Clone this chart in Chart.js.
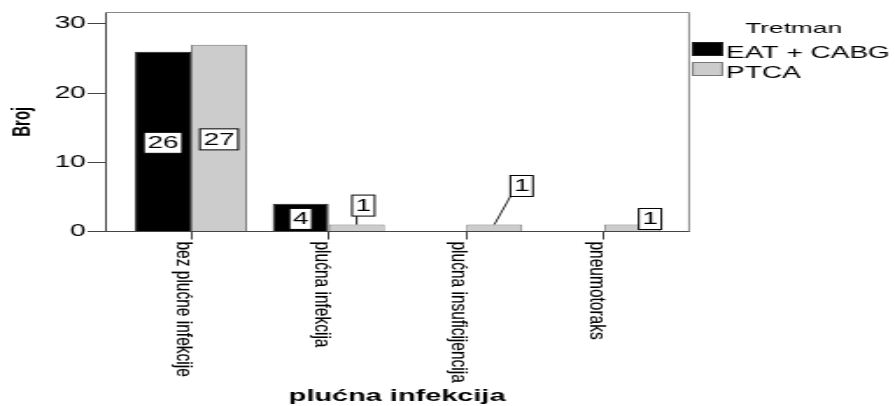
<!DOCTYPE html>
<html>
<head>
<meta charset="utf-8">
<script src="https://cdn.jsdelivr.net/npm/chart.js@4.4.1/dist/chart.umd.min.js"></script>
<style>
  html, body { margin: 0; padding: 0; background: #fff; overflow: hidden; }
  #wrap { width: 895px; height: 406px; position: relative; overflow: hidden; }
  /* the chart is laid out narrow and widened, so text and strokes come out broad */
  #chart { position: absolute; left: 0; top: 0; transform: scaleX(1.7515); transform-origin: 0 0; }
</style>
</head>
<body>
<div id="wrap"><canvas id="chart" width="511" height="406"></canvas></div>
<script>
/// Categories on the x axis
const categories = ["bez plućne infekcije", "plućna infekcija", "plućna insuficijencija", "pneumotoraks"];
/// Counts per treatment group
const eatCabg = [26, 4, 0, 0];
const ptca = [27, 1, 1, 1];
/// Series names and titles
const seriesNames = ["EAT + CABG", "PTCA"];
const legendTitle = "Tretman";
const yTitle = "Broj";
const xTitle = "plućna infekcija";
/// Y axis tick values
const yTicks = [0, 10, 20, 30];

const FONT = '"Liberation Sans", Arial, sans-serif';
const AXIS_COLOR = "#444";
const FRAME_COLOR = "#888";

/// Where each value box sits: null = middle of the bar, [dx, dy] = offset from bar top
const LABEL_OFFSETS = [
  [null, null, null, null],
  [null, [3.8, -19], [15.6, -38.6], [10.3, -5.6]]
];

// ── Plugins ─────────────────────────────────────────────────────────

/// Top and right sides of the plot frame.
const framePlugin = {
  id: "frame",
  afterDraw(chart) {
    const { ctx, chartArea: a } = chart;
    ctx.save();
    ctx.strokeStyle = FRAME_COLOR;
    ctx.lineWidth = 1;
    ctx.beginPath();
    ctx.moveTo(a.left, a.top + 0.5);
    ctx.lineTo(a.right, a.top + 0.5);
    ctx.lineTo(a.right, a.bottom);
    ctx.stroke();
    ctx.restore();
  }
};

/// Category names, rotated to read downwards from each tick.
const catLabelPlugin = {
  id: "catLabels",
  afterDraw(chart) {
    const { ctx } = chart;
    const xs = chart.scales.x;
    const top = xs.top + 10;
    ctx.save();
    ctx.fillStyle = "#000";
    ctx.strokeStyle = "rgba(0,0,0,0.35)";
    ctx.lineWidth = 0.4;
    ctx.font = "15.5px " + FONT;
    ctx.textAlign = "left";
    ctx.textBaseline = "alphabetic";
    categories.forEach((c, i) => {
      const px = xs.getPixelForValue(i);
      ctx.save();
      ctx.translate(px - 7.9, top);
      ctx.rotate(Math.PI / 2);
      ctx.scale(1, 0.8);
      ctx.fillText(c, 0, 0);
      ctx.strokeText(c, 0, 0);
      ctx.restore();
    });
    ctx.restore();
  }
};

/// Boxed value labels with leader lines.
const valueBoxPlugin = {
  id: "valueBoxes",
  afterDatasetsDraw(chart) {
    const { ctx } = chart;
    ctx.save();
    ctx.font = "16px " + FONT;
    ctx.textAlign = "center";
    ctx.textBaseline = "middle";
    ctx.lineWidth = 1;
    chart.data.datasets.forEach((ds, d) => {
      const meta = chart.getDatasetMeta(d);
      ds.data.forEach((pt, i) => {
        if (!pt.y) return;
        const bar = meta.data[i];
        const off = LABEL_OFFSETS[d][i];
        let cx, cy;
        if (off) { cx = bar.x + off[0]; cy = bar.y + off[1]; }
        else { cx = bar.x; cy = (bar.y + bar.base) / 2 + 1.5; }
        const txt = String(pt.y);
        const w = ctx.measureText(txt).width + 4;
        const h = 21;
        const l = cx - w / 2, t = cy - h / 2;
        // Leader line when the box floats above the bar
        if (t + h < bar.y - 1) {
          const lx = Math.min(Math.max(bar.x, l), l + w);
          ctx.strokeStyle = "#222";
          ctx.beginPath();
          ctx.moveTo(bar.x, bar.y);
          ctx.lineTo(lx, t + h);
          ctx.stroke();
        }
        ctx.fillStyle = "#fff";
        ctx.fillRect(l, t, w, h);
        ctx.strokeStyle = "#000";
        ctx.strokeRect(l, t, w, h);
        ctx.fillStyle = "#000";
        ctx.fillText(txt, cx, cy + 1);
      });
    });
    ctx.restore();
  }
};

/// Legend drawn beside the plot frame.
const legendPlugin = {
  id: "sideLegend",
  afterDraw(chart) {
    const { ctx, chartArea: a } = chart;
    const x0 = a.right + 1.7;
    ctx.save();
    ctx.fillStyle = "#000";
    ctx.font = "15px " + FONT;
    ctx.textAlign = "center";
    ctx.textBaseline = "alphabetic";
    ctx.fillText(legendTitle, x0 + 58, 33);
    ctx.font = "16px " + FONT;
    ctx.textAlign = "left";
    chart.data.datasets.forEach((ds, i) => {
      const y = 42 + i * 20;
      ctx.fillStyle = ds.backgroundColor;
      ctx.fillRect(x0, y, 17.7, 14);
      ctx.strokeStyle = ds.borderColor;
      ctx.lineWidth = 1;
      ctx.strokeRect(x0 + 0.5, y + 0.5, 16.7, 13);
      ctx.fillStyle = "#000";
      ctx.fillText(ds.label, x0 + 19.4, y + 15.5);
    });
    ctx.restore();
  }
};

// ── Chart ───────────────────────────────────────────────────────────

function points(values) {
  return values.map((v, i) => ({ x: i, y: v }));
}

Chart.defaults.font.family = FONT;
Chart.defaults.color = "#000";

new Chart(document.getElementById("chart"), {
  type: "bar",
  data: {
    datasets: [
      { label: seriesNames[0], data: points(eatCabg), backgroundColor: "#000000", borderColor: "#222222", borderWidth: 1 },
      { label: seriesNames[1], data: points(ptca), backgroundColor: "#cccccc", borderColor: "#777777", borderWidth: 1 }
    ]
  },
  options: {
    responsive: false,
    animation: false,
    events: [],
    categoryPercentage: 0.814,
    barPercentage: 1,
    layout: { padding: { left: 0, top: 12, right: 117.6, bottom: 0 } },
    plugins: { legend: { display: false }, tooltip: { enabled: false } },
    scales: {
      x: {
        type: "linear",
        min: -0.624,
        max: 3.618,
        offset: false,
        afterBuildTicks: s => { s.ticks = categories.map((_, i) => ({ value: i })); },
        afterFit: s => { s.height = 174.5; },
        ticks: { display: false },
        grid: { offset: false, drawOnChartArea: false, drawTicks: true, tickLength: 8, color: AXIS_COLOR },
        border: { display: true, color: AXIS_COLOR, width: 1 },
        title: { display: true, text: xTitle, font: { size: 16.5, weight: "bold" }, padding: { top: 0, bottom: 0 } }
      },
      y: {
        min: 0,
        max: 31.73,
        afterBuildTicks: s => { s.ticks = yTicks.map(v => ({ value: v })); },
        afterFit: s => { s.width = 60; },
        ticks: { padding: 1, font: { size: 16 } },
        grid: { drawOnChartArea: false, drawTicks: true, tickLength: 10, color: AXIS_COLOR },
        border: { display: true, color: AXIS_COLOR, width: 1 },
        title: { display: true, text: yTitle, font: { size: 15, weight: "bold" }, padding: { top: 4, bottom: 0 } }
      }
    }
  },
  plugins: [framePlugin, valueBoxPlugin, catLabelPlugin, legendPlugin]
});
</script>
</body>
</html>
